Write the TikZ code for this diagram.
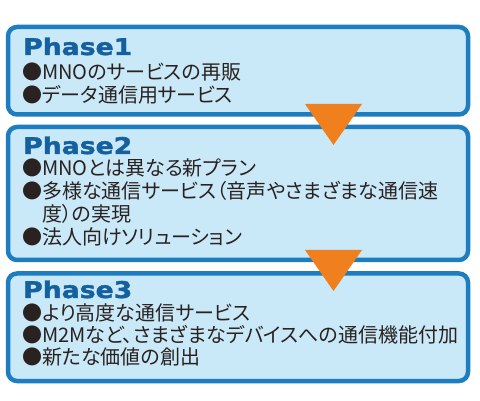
\documentclass[tikz,border=0pt]{standalone}
\usepackage{fontspec}
\newfontfamily\jpfont{Noto Sans CJK JP}[RawFeature=+palt]
\newfontfamily\titlefont{DejaVu Sans}[FakeStretch=1.16,FakeBold=1.6]
\definecolor{boxline}{HTML}{1C7DC0}
\definecolor{boxfill}{HTML}{C9E8F8}
\definecolor{titleblue}{HTML}{15609F}
\definecolor{arroworange}{HTML}{F07F1E}
\definecolor{bodytext}{HTML}{2A2220}
\tikzset{
  phasebox/.style={draw=boxline, fill=boxfill, line width=4.5pt, rounded corners=9pt},
  phasetitle/.style={anchor=base west, inner sep=0pt, text=titleblue, font=\titlefont\bfseries\fontsize{23}{23}\selectfont},
  phaseline/.style={anchor=base west, inner sep=0pt, text=bodytext, font=\jpfont\fontsize{20}{22.8}\selectfont},
  flowarrow/.style={fill=arroworange, draw=none}
}
\begin{document}
\begin{tikzpicture}[x=1pt,y=-1pt]
\useasboundingbox (0,0) rectangle (480,401);
% boxes
\draw[phasebox] (8,27) rectangle (468,114.5);
\draw[phasebox] (8,127) rectangle (468,260);
\draw[phasebox] (8,273.5) rectangle (468,381);
% titles
\node[phasetitle] (t1) at (23,55) {Phase1};
\node[phasetitle] (t2) at (23,154) {Phase2};
\node[phasetitle] (t3) at (23,298) {Phase3};
% phase 1 lines
\node[phaseline] (l11) at (22,80) {●MNOのサービスの再販};
\node[phaseline] (l12) at (22,102.5) {●データ通信用サービス};
% phase 2 lines
\node[phaseline] (l21) at (22,176) {●MNOとは異なる新プラン};
\node[phaseline] (l22) at (22,199) {●多様な通信サービス（音声やさまざまな通信速};
\node[phaseline] (l23) at (42,222) {度）の実現};
\node[phaseline] (l24) at (22,245) {●法人向けソリューション};
% phase 3 lines
\node[phaseline] (l31) at (22,320) {●より高度な通信サービス};
\node[phaseline] (l32) at (22,342) {●M2Mなど、さまざまなデバイスへの通信機能付加};
\node[phaseline] (l33) at (22,364) {●新たな価値の創出};
% arrows
\coordinate (a1l) at (305,104);
\coordinate (a1r) at (362,104);
\coordinate (a1t) at (333.5,145);
\fill[flowarrow] (a1l) -- (a1r) -- (a1t) -- cycle;
\coordinate (a2l) at (305,250);
\coordinate (a2r) at (362,250);
\coordinate (a2t) at (333.5,291);
\fill[flowarrow] (a2l) -- (a2r) -- (a2t) -- cycle;
\end{tikzpicture}
\end{document}
